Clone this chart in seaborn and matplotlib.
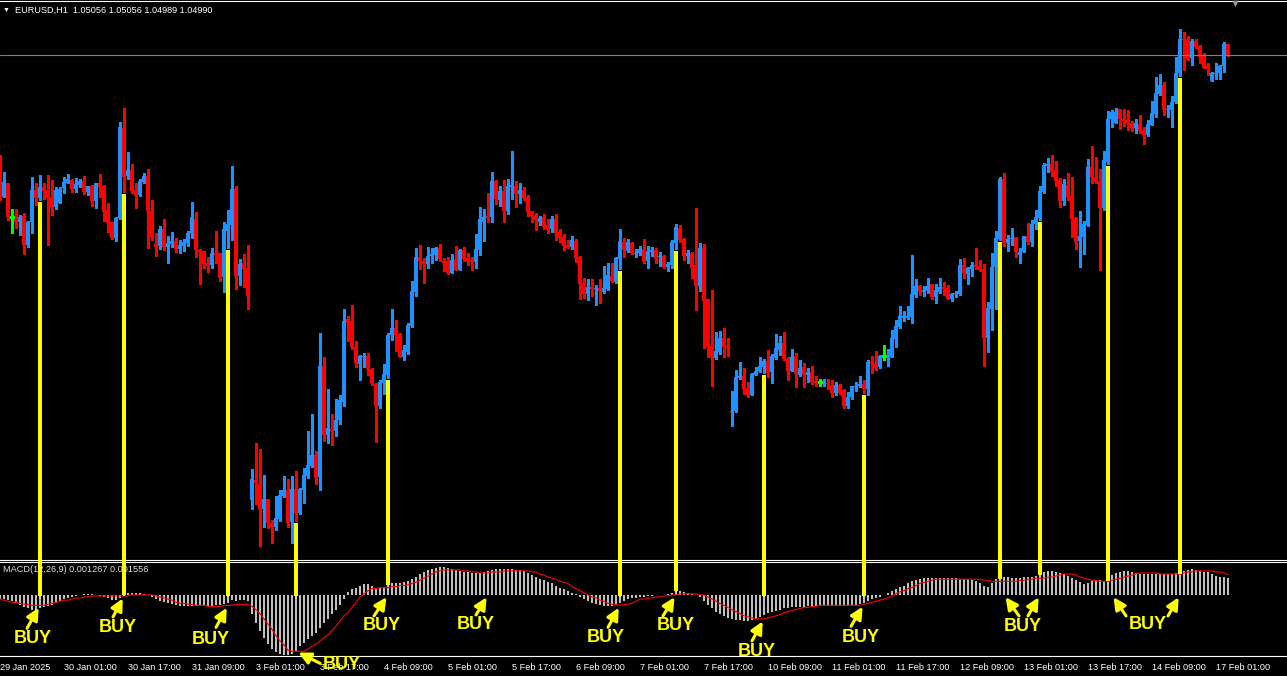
import numpy as np
import pandas as pd
import matplotlib
matplotlib.use('Agg')
import matplotlib.pyplot as plt
import seaborn as sns
from matplotlib.patches import ConnectionPatch

# EURUSD H1 candles, first bar 29 Jan 2025 09:00 (cut at the left edge), last bar 17 Feb 04:00
opens = [
    1.0393, 1.0356, 1.0370, 1.0336, 1.0336, 1.0331, 1.0337, 1.0308, 1.0331, 1.0363, 1.0355, 1.0366, 1.0363, 1.0356, 1.0346, 1.0350,
    1.0365, 1.0370, 1.0373, 1.0364, 1.0368, 1.0372, 1.0361, 1.0367, 1.0352, 1.0370, 1.0367, 1.0343, 1.0331, 1.0315, 1.0335, 1.0425,
    1.0377, 1.0383, 1.0363, 1.0358, 1.0371, 1.0377, 1.0342, 1.0309, 1.0307, 1.0324, 1.0306, 1.0309, 1.0312, 1.0304, 1.0307, 1.0310,
    1.0320, 1.0334, 1.0303, 1.0302, 1.0290, 1.0288, 1.0300, 1.0300, 1.0276, 1.0322, 1.0328, 1.0364, 1.0277, 1.0290, 1.0285, 1.0053,
    1.0073, 1.0069, 1.0044, 1.0054, 1.0030, 1.0026, 1.0034, 1.0057, 1.0063, 1.0031, 1.0064, 1.0040, 1.0063, 1.0077, 1.0087, 1.0098,
    1.0076, 1.0187, 1.0118, 1.0124, 1.0122, 1.0133, 1.0151, 1.0234, 1.0232, 1.0206, 1.0189, 1.0196, 1.0197, 1.0184, 1.0169, 1.0147,
    1.0170, 1.0178, 1.0218, 1.0225, 1.0219, 1.0196, 1.0201, 1.0227, 1.0261, 1.0296, 1.0292, 1.0289, 1.0297, 1.0298, 1.0305, 1.0292,
    1.0292, 1.0280, 1.0294, 1.0283, 1.0303, 1.0295, 1.0293, 1.0291, 1.0303, 1.0331, 1.0337, 1.0336, 1.0372, 1.0353, 1.0362, 1.0342,
    1.0366, 1.0367, 1.0359, 1.0363, 1.0356, 1.0342, 1.0338, 1.0331, 1.0336, 1.0328, 1.0324, 1.0334, 1.0321, 1.0316, 1.0308, 1.0306,
    1.0312, 1.0296, 1.0270, 1.0259, 1.0266, 1.0264, 1.0265, 1.0261, 1.0264, 1.0277, 1.0271, 1.0294, 1.0311, 1.0302, 1.0310, 1.0299,
    1.0300, 1.0304, 1.0292, 1.0301, 1.0303, 1.0296, 1.0297, 1.0286, 1.0288, 1.0310, 1.0325, 1.0314, 1.0297, 1.0300, 1.0288, 1.0267,
    1.0305, 1.0254, 1.0207, 1.0195, 1.0201, 1.0215, 1.0207, 1.0141, 1.0142, 1.0175, 1.0177, 1.0165, 1.0158, 1.0178, 1.0182, 1.0186,
    1.0192, 1.0181, 1.0195, 1.0203, 1.0210, 1.0194, 1.0182, 1.0197, 1.0178, 1.0186, 1.0178, 1.0181, 1.0172, 1.0171, 1.0169, 1.0170,
    1.0168, 1.0160, 1.0168, 1.0163, 1.0147, 1.0156, 1.0166, 1.0167, 1.0169, 1.0164, 1.0191, 1.0190, 1.0186, 1.0197, 1.0196, 1.0196,
    1.0214, 1.0226, 1.0235, 1.0235, 1.0236, 1.0258, 1.0267, 1.0261, 1.0262, 1.0269, 1.0256, 1.0261, 1.0266, 1.0265, 1.0254, 1.0259,
    1.0259, 1.0288, 1.0279, 1.0284, 1.0288, 1.0287, 1.0284, 1.0215, 1.0244, 1.0286, 1.0314, 1.0374, 1.0310, 1.0314, 1.0316, 1.0298,
    1.0301, 1.0317, 1.0311, 1.0329, 1.0335, 1.0361, 1.0387, 1.0389, 1.0383, 1.0373, 1.0352, 1.0368, 1.0357, 1.0335, 1.0312, 1.0316,
    1.0328, 1.0386, 1.0376, 1.0372, 1.0345, 1.0391, 1.0434, 1.0430, 1.0444, 1.0434, 1.0433, 1.0430, 1.0425, 1.0429, 1.0423, 1.0418,
    1.0428, 1.0439, 1.0459, 1.0468, 1.0443, 1.0443, 1.0451, 1.0480, 1.0514, 1.0514, 1.0495, 1.0512, 1.0507, 1.0497, 1.0487, 1.0472,
    1.0479, 1.0480, 1.0487, 1.0509,
]
highs = [
    1.0398, 1.0381, 1.0370, 1.0344, 1.0344, 1.0338, 1.0340, 1.0332, 1.0376, 1.0370, 1.0378, 1.0370, 1.0378, 1.0373, 1.0366, 1.0366,
    1.0376, 1.0379, 1.0374, 1.0375, 1.0374, 1.0377, 1.0367, 1.0368, 1.0370, 1.0379, 1.0368, 1.0350, 1.0331, 1.0336, 1.0431, 1.0445,
    1.0401, 1.0389, 1.0370, 1.0374, 1.0380, 1.0384, 1.0353, 1.0320, 1.0327, 1.0334, 1.0317, 1.0321, 1.0315, 1.0313, 1.0314, 1.0322,
    1.0351, 1.0341, 1.0304, 1.0302, 1.0296, 1.0305, 1.0322, 1.0300, 1.0331, 1.0343, 1.0387, 1.0367, 1.0294, 1.0299, 1.0308, 1.0084,
    1.0110, 1.0104, 1.0078, 1.0054, 1.0033, 1.0057, 1.0063, 1.0077, 1.0074, 1.0077, 1.0082, 1.0065, 1.0085, 1.0122, 1.0139, 1.0102,
    1.0220, 1.0196, 1.0164, 1.0139, 1.0154, 1.0158, 1.0244, 1.0237, 1.0248, 1.0212, 1.0198, 1.0200, 1.0200, 1.0185, 1.0170, 1.0173,
    1.0189, 1.0220, 1.0244, 1.0233, 1.0220, 1.0208, 1.0230, 1.0272, 1.0305, 1.0308, 1.0295, 1.0306, 1.0305, 1.0306, 1.0309, 1.0295,
    1.0296, 1.0299, 1.0307, 1.0304, 1.0306, 1.0300, 1.0296, 1.0319, 1.0346, 1.0344, 1.0360, 1.0381, 1.0373, 1.0367, 1.0373, 1.0374,
    1.0402, 1.0372, 1.0370, 1.0366, 1.0358, 1.0342, 1.0340, 1.0337, 1.0339, 1.0334, 1.0337, 1.0339, 1.0324, 1.0319, 1.0313, 1.0317,
    1.0314, 1.0297, 1.0275, 1.0274, 1.0274, 1.0268, 1.0274, 1.0287, 1.0290, 1.0290, 1.0296, 1.0324, 1.0315, 1.0314, 1.0311, 1.0304,
    1.0307, 1.0314, 1.0307, 1.0306, 1.0305, 1.0301, 1.0298, 1.0291, 1.0313, 1.0329, 1.0328, 1.0315, 1.0303, 1.0301, 1.0345, 1.0310,
    1.0309, 1.0254, 1.0263, 1.0221, 1.0222, 1.0225, 1.0215, 1.0162, 1.0183, 1.0191, 1.0185, 1.0171, 1.0180, 1.0186, 1.0196, 1.0194,
    1.0203, 1.0199, 1.0219, 1.0217, 1.0221, 1.0196, 1.0204, 1.0200, 1.0193, 1.0190, 1.0185, 1.0187, 1.0177, 1.0174, 1.0174, 1.0174,
    1.0173, 1.0171, 1.0169, 1.0164, 1.0161, 1.0167, 1.0171, 1.0177, 1.0173, 1.0193, 1.0197, 1.0202, 1.0198, 1.0208, 1.0204, 1.0223,
    1.0233, 1.0247, 1.0242, 1.0247, 1.0298, 1.0274, 1.0268, 1.0267, 1.0275, 1.0269, 1.0269, 1.0275, 1.0271, 1.0268, 1.0260, 1.0262,
    1.0294, 1.0295, 1.0286, 1.0291, 1.0305, 1.0293, 1.0289, 1.0251, 1.0300, 1.0322, 1.0376, 1.0380, 1.0318, 1.0325, 1.0316, 1.0305,
    1.0317, 1.0330, 1.0333, 1.0343, 1.0367, 1.0390, 1.0395, 1.0398, 1.0392, 1.0375, 1.0374, 1.0380, 1.0376, 1.0336, 1.0342, 1.0332,
    1.0394, 1.0407, 1.0396, 1.0384, 1.0402, 1.0442, 1.0443, 1.0445, 1.0444, 1.0444, 1.0443, 1.0432, 1.0434, 1.0438, 1.0426, 1.0433,
    1.0452, 1.0476, 1.0479, 1.0471, 1.0448, 1.0457, 1.0496, 1.0524, 1.0521, 1.0517, 1.0514, 1.0514, 1.0508, 1.0500, 1.0490, 1.0481,
    1.0490, 1.0488, 1.0511, 1.0509,
]
lows = [
    1.0353, 1.0356, 1.0333, 1.0320, 1.0325, 1.0318, 1.0299, 1.0306, 1.0320, 1.0348, 1.0353, 1.0354, 1.0308, 1.0338, 1.0344, 1.0350,
    1.0360, 1.0370, 1.0361, 1.0361, 1.0366, 1.0359, 1.0358, 1.0347, 1.0345, 1.0356, 1.0332, 1.0321, 1.0314, 1.0312, 1.0334, 1.0361,
    1.0374, 1.0360, 1.0345, 1.0357, 1.0370, 1.0305, 1.0313, 1.0297, 1.0304, 1.0303, 1.0290, 1.0306, 1.0301, 1.0300, 1.0302, 1.0307,
    1.0315, 1.0296, 1.0269, 1.0285, 1.0281, 1.0285, 1.0290, 1.0272, 1.0261, 1.0305, 1.0313, 1.0264, 1.0268, 1.0266, 1.0244, 1.0044,
    1.0049, 1.0007, 1.0026, 1.0025, 1.0010, 1.0023, 1.0032, 1.0056, 1.0026, 1.0010, 1.0032, 1.0039, 1.0050, 1.0075, 1.0086, 1.0069,
    1.0063, 1.0112, 1.0110, 1.0108, 1.0117, 1.0129, 1.0147, 1.0212, 1.0204, 1.0186, 1.0173, 1.0186, 1.0178, 1.0168, 1.0111, 1.0145,
    1.0159, 1.0175, 1.0213, 1.0202, 1.0196, 1.0193, 1.0199, 1.0226, 1.0257, 1.0284, 1.0270, 1.0285, 1.0290, 1.0293, 1.0292, 1.0282,
    1.0279, 1.0280, 1.0283, 1.0283, 1.0292, 1.0288, 1.0283, 1.0285, 1.0298, 1.0312, 1.0331, 1.0331, 1.0349, 1.0347, 1.0331, 1.0339,
    1.0354, 1.0346, 1.0350, 1.0353, 1.0337, 1.0331, 1.0323, 1.0328, 1.0324, 1.0320, 1.0321, 1.0313, 1.0311, 1.0303, 1.0305, 1.0304,
    1.0291, 1.0254, 1.0255, 1.0253, 1.0257, 1.0248, 1.0250, 1.0260, 1.0263, 1.0271, 1.0270, 1.0284, 1.0296, 1.0301, 1.0299, 1.0296,
    1.0298, 1.0290, 1.0285, 1.0297, 1.0290, 1.0287, 1.0285, 1.0282, 1.0285, 1.0304, 1.0311, 1.0293, 1.0290, 1.0275, 1.0243, 1.0262,
    1.0205, 1.0196, 1.0167, 1.0194, 1.0199, 1.0196, 1.0197, 1.0127, 1.0141, 1.0174, 1.0159, 1.0156, 1.0158, 1.0178, 1.0181, 1.0180,
    1.0176, 1.0170, 1.0194, 1.0198, 1.0193, 1.0173, 1.0182, 1.0166, 1.0177, 1.0166, 1.0171, 1.0169, 1.0167, 1.0167, 1.0167, 1.0164,
    1.0156, 1.0158, 1.0159, 1.0145, 1.0145, 1.0154, 1.0162, 1.0166, 1.0160, 1.0158, 1.0180, 1.0183, 1.0185, 1.0193, 1.0187, 1.0196,
    1.0206, 1.0225, 1.0232, 1.0234, 1.0230, 1.0256, 1.0258, 1.0257, 1.0260, 1.0254, 1.0250, 1.0260, 1.0258, 1.0254, 1.0252, 1.0256,
    1.0258, 1.0275, 1.0269, 1.0277, 1.0284, 1.0282, 1.0187, 1.0201, 1.0223, 1.0244, 1.0313, 1.0307, 1.0302, 1.0308, 1.0296, 1.0290,
    1.0301, 1.0309, 1.0307, 1.0324, 1.0333, 1.0360, 1.0381, 1.0377, 1.0367, 1.0346, 1.0348, 1.0353, 1.0316, 1.0304, 1.0286, 1.0299,
    1.0327, 1.0370, 1.0370, 1.0283, 1.0343, 1.0389, 1.0426, 1.0430, 1.0424, 1.0427, 1.0423, 1.0422, 1.0420, 1.0420, 1.0409, 1.0417,
    1.0428, 1.0436, 1.0458, 1.0438, 1.0436, 1.0426, 1.0450, 1.0477, 1.0483, 1.0493, 1.0488, 1.0505, 1.0490, 1.0485, 1.0478, 1.0472,
    1.0474, 1.0474, 1.0481, 1.0497,
]
closes = [
    1.0356, 1.0371, 1.0336, 1.0336, 1.0331, 1.0336, 1.0308, 1.0331, 1.0363, 1.0355, 1.0366, 1.0362, 1.0356, 1.0346, 1.0363, 1.0364,
    1.0371, 1.0374, 1.0364, 1.0369, 1.0372, 1.0361, 1.0367, 1.0352, 1.0370, 1.0366, 1.0341, 1.0330, 1.0315, 1.0335, 1.0426, 1.0376,
    1.0383, 1.0362, 1.0357, 1.0372, 1.0377, 1.0342, 1.0316, 1.0306, 1.0324, 1.0306, 1.0310, 1.0312, 1.0304, 1.0308, 1.0311, 1.0320,
    1.0336, 1.0303, 1.0301, 1.0289, 1.0287, 1.0300, 1.0298, 1.0275, 1.0324, 1.0329, 1.0364, 1.0277, 1.0289, 1.0284, 1.0257, 1.0074,
    1.0070, 1.0044, 1.0054, 1.0030, 1.0026, 1.0035, 1.0058, 1.0063, 1.0030, 1.0064, 1.0040, 1.0064, 1.0078, 1.0088, 1.0098, 1.0075,
    1.0187, 1.0118, 1.0125, 1.0122, 1.0133, 1.0153, 1.0232, 1.0230, 1.0206, 1.0190, 1.0197, 1.0197, 1.0184, 1.0170, 1.0147, 1.0171,
    1.0179, 1.0218, 1.0225, 1.0218, 1.0196, 1.0203, 1.0228, 1.0262, 1.0296, 1.0292, 1.0289, 1.0297, 1.0299, 1.0305, 1.0294, 1.0290,
    1.0280, 1.0293, 1.0283, 1.0303, 1.0294, 1.0292, 1.0291, 1.0304, 1.0334, 1.0336, 1.0335, 1.0372, 1.0354, 1.0362, 1.0342, 1.0367,
    1.0368, 1.0359, 1.0363, 1.0355, 1.0341, 1.0337, 1.0333, 1.0335, 1.0326, 1.0324, 1.0334, 1.0320, 1.0315, 1.0307, 1.0305, 1.0313,
    1.0295, 1.0269, 1.0259, 1.0266, 1.0264, 1.0265, 1.0262, 1.0265, 1.0278, 1.0272, 1.0295, 1.0312, 1.0303, 1.0311, 1.0300, 1.0300,
    1.0304, 1.0291, 1.0302, 1.0303, 1.0294, 1.0297, 1.0286, 1.0289, 1.0311, 1.0326, 1.0313, 1.0297, 1.0300, 1.0285, 1.0267, 1.0305,
    1.0252, 1.0206, 1.0195, 1.0202, 1.0215, 1.0206, 1.0206, 1.0142, 1.0176, 1.0177, 1.0164, 1.0158, 1.0179, 1.0182, 1.0187, 1.0192,
    1.0180, 1.0197, 1.0205, 1.0210, 1.0194, 1.0182, 1.0196, 1.0179, 1.0185, 1.0178, 1.0181, 1.0171, 1.0170, 1.0171, 1.0171, 1.0169,
    1.0160, 1.0168, 1.0160, 1.0147, 1.0156, 1.0167, 1.0167, 1.0169, 1.0164, 1.0191, 1.0190, 1.0186, 1.0197, 1.0197, 1.0198, 1.0215,
    1.0227, 1.0237, 1.0237, 1.0237, 1.0259, 1.0267, 1.0262, 1.0263, 1.0267, 1.0256, 1.0263, 1.0266, 1.0264, 1.0254, 1.0259, 1.0260,
    1.0288, 1.0280, 1.0285, 1.0288, 1.0286, 1.0283, 1.0215, 1.0245, 1.0286, 1.0315, 1.0374, 1.0310, 1.0314, 1.0315, 1.0301, 1.0301,
    1.0317, 1.0311, 1.0329, 1.0336, 1.0362, 1.0388, 1.0389, 1.0381, 1.0372, 1.0352, 1.0369, 1.0356, 1.0334, 1.0311, 1.0317, 1.0329,
    1.0386, 1.0376, 1.0371, 1.0345, 1.0393, 1.0434, 1.0441, 1.0441, 1.0434, 1.0432, 1.0430, 1.0425, 1.0430, 1.0422, 1.0418, 1.0429,
    1.0440, 1.0460, 1.0468, 1.0443, 1.0444, 1.0451, 1.0480, 1.0514, 1.0513, 1.0494, 1.0512, 1.0506, 1.0496, 1.0485, 1.0484, 1.0480,
    1.0480, 1.0487, 1.0509, 1.0498,
]

# MACD(12,26,9) window, read bar by bar: main line (histogram) and signal line
macd_main = [
    -0.00032, -0.00032, -0.00040, -0.00048, -0.00064, -0.00080, -0.00096, -0.00104, -0.00112, -0.00112, -0.00104, -0.00096, -0.00088, -0.00080, -0.00064, -0.00048,
    -0.00032, -0.00024, -0.00016, -0.00008, 0.00000, 0.00008, 0.00008, 0.00008, 0.00000, -0.00008, -0.00016, -0.00024, -0.00040, -0.00040, -0.00024, 0.00008,
    0.00016, 0.00016, 0.00016, 0.00016, 0.00008, 0.00000, -0.00016, -0.00032, -0.00048, -0.00056, -0.00064, -0.00072, -0.00080, -0.00088, -0.00088, -0.00088,
    -0.00088, -0.00088, -0.00088, -0.00088, -0.00088, -0.00088, -0.00080, -0.00080, -0.00072, -0.00064, -0.00040, -0.00048, -0.00040, -0.00040, -0.00048, -0.00144,
    -0.00216, -0.00280, -0.00328, -0.00376, -0.00416, -0.00440, -0.00456, -0.00464, -0.00464, -0.00456, -0.00432, -0.00392, -0.00368, -0.00336, -0.00312, -0.00288,
    -0.00256, -0.00216, -0.00184, -0.00144, -0.00112, -0.00080, -0.00032, 0.00024, 0.00048, 0.00056, 0.00072, 0.00080, 0.00080, 0.00072, 0.00056, 0.00056,
    0.00064, 0.00088, 0.00088, 0.00088, 0.00088, 0.00096, 0.00104, 0.00120, 0.00136, 0.00160, 0.00176, 0.00192, 0.00200, 0.00208, 0.00216, 0.00216,
    0.00208, 0.00200, 0.00192, 0.00184, 0.00176, 0.00176, 0.00168, 0.00168, 0.00168, 0.00176, 0.00184, 0.00192, 0.00200, 0.00200, 0.00200, 0.00200,
    0.00200, 0.00192, 0.00192, 0.00184, 0.00168, 0.00152, 0.00136, 0.00120, 0.00112, 0.00096, 0.00088, 0.00072, 0.00056, 0.00048, 0.00032, 0.00016,
    0.00008, -0.00016, -0.00032, -0.00048, -0.00064, -0.00072, -0.00080, -0.00088, -0.00088, -0.00088, -0.00080, -0.00064, -0.00048, -0.00032, -0.00024, -0.00024,
    -0.00016, -0.00016, -0.00008, -0.00008, 0.00000, 0.00000, 0.00000, 0.00008, 0.00016, 0.00040, 0.00032, 0.00024, 0.00016, 0.00008, 0.00000, -0.00016,
    -0.00048, -0.00080, -0.00104, -0.00128, -0.00144, -0.00160, -0.00176, -0.00184, -0.00192, -0.00192, -0.00200, -0.00200, -0.00192, -0.00184, -0.00168, -0.00152,
    -0.00136, -0.00128, -0.00120, -0.00112, -0.00104, -0.00104, -0.00096, -0.00096, -0.00096, -0.00096, -0.00088, -0.00088, -0.00088, -0.00088, -0.00088, -0.00088,
    -0.00088, -0.00088, -0.00088, -0.00088, -0.00080, -0.00080, -0.00080, -0.00072, -0.00064, -0.00048, -0.00032, -0.00024, -0.00016, 0.00000, 0.00016, 0.00032,
    0.00048, 0.00064, 0.00072, 0.00088, 0.00104, 0.00112, 0.00120, 0.00128, 0.00128, 0.00128, 0.00128, 0.00128, 0.00128, 0.00128, 0.00128, 0.00128,
    0.00120, 0.00120, 0.00120, 0.00112, 0.00104, 0.00088, 0.00072, 0.00064, 0.00088, 0.00120, 0.00136, 0.00136, 0.00136, 0.00128, 0.00128, 0.00128,
    0.00136, 0.00136, 0.00136, 0.00144, 0.00168, 0.00176, 0.00184, 0.00184, 0.00176, 0.00168, 0.00160, 0.00144, 0.00128, 0.00112, 0.00096, 0.00080,
    0.00088, 0.00104, 0.00112, 0.00112, 0.00096, 0.00120, 0.00152, 0.00168, 0.00176, 0.00184, 0.00184, 0.00176, 0.00168, 0.00160, 0.00160, 0.00160,
    0.00160, 0.00160, 0.00160, 0.00160, 0.00160, 0.00160, 0.00168, 0.00176, 0.00184, 0.00192, 0.00200, 0.00192, 0.00184, 0.00176, 0.00176, 0.00160,
    0.00144, 0.00136, 0.00136, 0.00127,
]
macd_signal = [
    -0.00032, -0.00040, -0.00048, -0.00056, -0.00056, -0.00064, -0.00072, -0.00072, -0.00080, -0.00080, -0.00080, -0.00080, -0.00072, -0.00064, -0.00056, -0.00048,
    -0.00040, -0.00040, -0.00032, -0.00024, -0.00024, -0.00016, -0.00016, -0.00008, -0.00008, -0.00008, -0.00008, -0.00008, -0.00008, -0.00008, -0.00008, -0.00008,
    -0.00008, 0.00000, 0.00000, 0.00000, 0.00000, 0.00000, 0.00000, -0.00008, -0.00016, -0.00024, -0.00032, -0.00040, -0.00056, -0.00064, -0.00064, -0.00072,
    -0.00072, -0.00080, -0.00080, -0.00080, -0.00088, -0.00088, -0.00088, -0.00088, -0.00080, -0.00080, -0.00080, -0.00072, -0.00072, -0.00072, -0.00072, -0.00088,
    -0.00112, -0.00144, -0.00184, -0.00224, -0.00264, -0.00312, -0.00352, -0.00384, -0.00424, -0.00432, -0.00432, -0.00432, -0.00432, -0.00416, -0.00392, -0.00376,
    -0.00352, -0.00328, -0.00304, -0.00272, -0.00240, -0.00200, -0.00160, -0.00136, -0.00096, -0.00056, -0.00016, 0.00008, 0.00032, 0.00048, 0.00048, 0.00056,
    0.00056, 0.00056, 0.00064, 0.00064, 0.00072, 0.00072, 0.00080, 0.00088, 0.00096, 0.00112, 0.00128, 0.00144, 0.00160, 0.00176, 0.00184, 0.00192,
    0.00192, 0.00192, 0.00192, 0.00192, 0.00184, 0.00184, 0.00176, 0.00176, 0.00168, 0.00168, 0.00168, 0.00176, 0.00176, 0.00176, 0.00184, 0.00184,
    0.00184, 0.00184, 0.00184, 0.00184, 0.00184, 0.00176, 0.00176, 0.00160, 0.00152, 0.00136, 0.00128, 0.00120, 0.00104, 0.00096, 0.00088, 0.00064,
    0.00048, 0.00032, 0.00016, 0.00000, -0.00016, -0.00024, -0.00040, -0.00048, -0.00064, -0.00072, -0.00072, -0.00080, -0.00072, -0.00072, -0.00064, -0.00048,
    -0.00032, -0.00032, -0.00024, -0.00024, -0.00016, -0.00016, -0.00008, -0.00008, 0.00000, 0.00000, 0.00008, 0.00008, 0.00008, 0.00008, 0.00008, 0.00000,
    0.00000, -0.00016, -0.00032, -0.00048, -0.00064, -0.00080, -0.00096, -0.00112, -0.00128, -0.00144, -0.00160, -0.00168, -0.00176, -0.00184, -0.00184, -0.00184,
    -0.00176, -0.00168, -0.00160, -0.00152, -0.00136, -0.00128, -0.00120, -0.00112, -0.00104, -0.00096, -0.00096, -0.00088, -0.00088, -0.00080, -0.00080, -0.00080,
    -0.00080, -0.00080, -0.00080, -0.00080, -0.00080, -0.00080, -0.00080, -0.00080, -0.00072, -0.00064, -0.00056, -0.00048, -0.00040, -0.00032, -0.00024, -0.00008,
    0.00008, 0.00024, 0.00032, 0.00048, 0.00056, 0.00072, 0.00088, 0.00096, 0.00104, 0.00112, 0.00120, 0.00120, 0.00120, 0.00120, 0.00120, 0.00120,
    0.00120, 0.00120, 0.00120, 0.00120, 0.00120, 0.00120, 0.00112, 0.00112, 0.00104, 0.00104, 0.00104, 0.00104, 0.00104, 0.00104, 0.00104, 0.00112,
    0.00112, 0.00120, 0.00120, 0.00128, 0.00128, 0.00128, 0.00136, 0.00136, 0.00144, 0.00152, 0.00160, 0.00160, 0.00160, 0.00152, 0.00136, 0.00128,
    0.00120, 0.00112, 0.00112, 0.00104, 0.00104, 0.00104, 0.00112, 0.00120, 0.00128, 0.00136, 0.00144, 0.00152, 0.00160, 0.00168, 0.00168, 0.00168,
    0.00168, 0.00168, 0.00160, 0.00160, 0.00160, 0.00160, 0.00160, 0.00160, 0.00168, 0.00176, 0.00176, 0.00184, 0.00184, 0.00184, 0.00184, 0.00184,
    0.00176, 0.00176, 0.00168, 0.00156,
]

# time axis: a label every 16 hourly bars, starting at the first bar
tick_labels = ['29 Jan 2025', '30 Jan 01:00', '30 Jan 17:00', '31 Jan 09:00', '3 Feb 01:00',
               '3 Feb 17:00', '4 Feb 09:00', '5 Feb 01:00', '5 Feb 17:00', '6 Feb 09:00',
               '7 Feb 01:00', '7 Feb 17:00', '10 Feb 09:00', '11 Feb 01:00', '11 Feb 17:00',
               '12 Feb 09:00', '13 Feb 01:00', '13 Feb 17:00', '14 Feb 09:00', '17 Feb 01:00']

# bars with a yellow signal line
line_bars = [10, 31, 57, 74, 97, 155, 169, 191, 216, 250, 260, 277, 295]

# BUY labels: (bars the arrows point at, text offset px, arrow tail offsets px)
buy_labels = [
    ([10], (-7, -33), [(-13, -23)]),
    ([31], (-6, -32), [(-11, -21)]),
    ([57], (-17, -34), [(-12, -22)]),
    ([74], (46, -13), [(24, -12)]),
    ([97], (-6, -31), [(-14, -21)]),
    ([122], (-12, -30), [(-12, -20)]),
    ([155], (-14, -32), [(-12, -22)]),
    ([169], (0, -31), [(-13, -21)]),
    ([191], (-7, -33), [(-12, -22)]),
    ([216], (-3, -33), [(-13, -22)]),
    ([251, 260], (19, -32), [(15, -21), (-12, -21)]),
    ([278, 295], (36, -30), [(14, -21), (-12, -21)]),
]

df = pd.DataFrame({'open': opens, 'high': highs, 'low': lows, 'close': closes,
                   'macd': macd_main, 'signal': macd_signal})
df['bar'] = np.arange(len(df))

sns.set_style('dark', {'axes.facecolor': 'black', 'figure.facecolor': 'black',
                       'axes.edgecolor': 'white'})
plt.rcParams['font.family'] = ['Liberation Sans', 'DejaVu Sans']

W, H = 1287, 676
fig = plt.figure(figsize=(W / 100, H / 100), dpi=100)
fig.patch.set_facecolor('black')
ax = fig.add_axes([0, 116.5 / H, 1, 558.5 / H])
axm = fig.add_axes([0, 20 / H, 1, 94.5 / H])

blue, red, lime = '#1e90ff', '#ff0000', '#00ff00'
up = df[df.close > df.open]
dn = df[df.close < df.open]
dj = df[df.close == df.open]
for part, col in [(up, blue), (dn, red)]:
    ax.vlines(part.bar, part.low, part.high, color=col, lw=0.75, antialiased=False)
    ax.bar(part.bar, (part.close - part.open).abs(), bottom=part[['open', 'close']].min(axis=1),
           width=0.8, color=col, lw=0, antialiased=False)
ax.vlines(dj.bar, dj.low, dj.high, color=lime, lw=0.75, antialiased=False)
ax.hlines(dj.close, dj.bar - 0.45, dj.bar + 0.45, color=lime, lw=0.75, antialiased=False)

# bid line
ax.axhline(df.close.iloc[-1], color='#808080', lw=0.8)

ax.set_xlim(0, W / 4)
ax.set_ylim(df.low.min() - 0.00135, df.high.max() + 0.0028)
ax.set_xticks([])
ax.set_yticks([])
for s in ['left', 'right']:
    ax.spines[s].set_visible(False)
for s in ['top', 'bottom']:
    ax.spines[s].set_color('white')
    ax.spines[s].set_linewidth(0.8)

# MACD window
axm.bar(df.bar, df.macd, width=0.72, color='#c0c0c0', lw=0, antialiased=False)
sns.lineplot(data=df, x='bar', y='signal', ax=axm, color=red, linewidth=0.8)
lo = min(df.macd.min(), df.signal.min())
hi = max(df.macd.max(), df.signal.max())
axm.set_ylim(lo - 0.00004, hi + 0.00040)
axm.set_xlim(0, W / 4)
axm.set_ylabel('')
axm.set_xlabel('')
axm.set_yticks([])
axm.set_xticks(np.arange(len(tick_labels)) * 16)
axm.set_xticklabels(tick_labels, ha='left', color='white', fontsize=6.6)
axm.tick_params(axis='x', colors='white', length=3, width=0.75, pad=2)
for s in ['left', 'right']:
    axm.spines[s].set_visible(False)
for s in ['top', 'bottom']:
    axm.spines[s].set_color('white')
    axm.spines[s].set_linewidth(0.8)

# yellow signal lines from below the candle down to the histogram
hist_top = np.maximum(df.macd.values, 0)
for k in line_bars:
    con = ConnectionPatch(xyA=(k, lows[k] - 0.0004), coordsA=ax.transData,
                          xyB=(k, hist_top[k]), coordsB=axm.transData,
                          color='#ffff00', lw=2.2, antialiased=False)
    fig.add_artist(con)

# BUY arrows point at the signal line (or just under the zero line)
tips = np.minimum(df.signal.values, 0)
for bars, (tx, ty), tails in buy_labels:
    k0 = bars[0]
    axm.annotate('BUY', xy=(k0, tips[k0]), xytext=(tx, ty), textcoords='offset pixels',
                 ha='center', va='center', color='#ffff00', fontsize=13, fontweight='bold',
                 annotation_clip=False, zorder=6)
    for k, (dx, dy) in zip(bars, tails):
        axm.annotate('', xy=(k, tips[k]), xytext=(dx, dy), textcoords='offset pixels',
                     arrowprops=dict(arrowstyle='-|>,head_length=0.6,head_width=0.3',
                                     color='#ffff00', lw=2.2, shrinkA=0, shrinkB=2,
                                     mutation_scale=12),
                     annotation_clip=False, zorder=6)

# texts of the terminal window
fig.text(3 / W, 1 - 10 / H, '\u25bc', color='white', fontsize=5, va='center')
fig.text(15 / W, 1 - 10 / H, 'EURUSD,H1  1.05056 1.05056 1.04989 1.04990',
         color='white', fontsize=6.6, va='center')
fig.text(3 / W, 1 - 570 / H, 'MACD(12,26,9) 0.001267 0.001556',
         color='#e0e0e0', fontsize=6.6, va='center')
fig.text(1235 / W, 1 - 4 / H, '\u25bc', color='#8a96a0', fontsize=8, ha='center', va='center')

fig.savefig('out.png', dpi=100, facecolor='black')
